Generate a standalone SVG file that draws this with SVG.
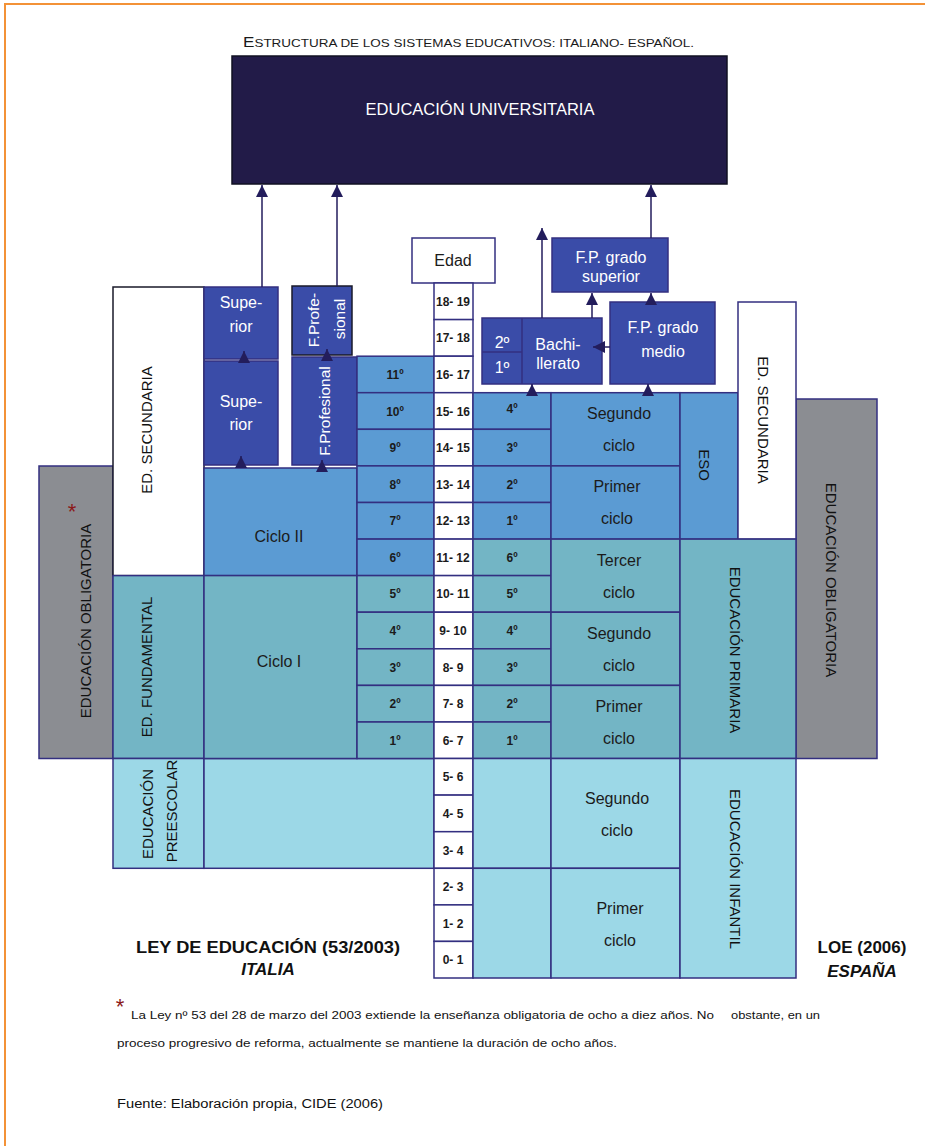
<svg xmlns="http://www.w3.org/2000/svg" width="925" height="1146" viewBox="0 0 925 1146">
<style>
text{font-family:"Liberation Sans",Arial,sans-serif;}
.b{stroke:#332f80;stroke-width:1.5;}
.k{stroke:#1a1a2a;stroke-width:1.5;}
.blue{fill:#5b9bd3}
.teal{fill:#73b5c5}
.light{fill:#9cd8e7}
.dark{fill:#3a4ca8}
.white{fill:#ffffff}
.gray{fill:#8b8d92}
.lbl{font-size:16px;fill:#1b1b1b;text-anchor:middle}
.wl{font-size:16px;fill:#ffffff;text-anchor:middle}
.num{font-size:12px;font-weight:bold;fill:#1b1b1b;text-anchor:middle}
.rot{font-size:15px;fill:#111111;text-anchor:middle;dominant-baseline:central}
.wrot{font-size:15.5px;fill:#ffffff;text-anchor:middle;dominant-baseline:central}
.ast{font-size:22px;fill:#8b1a1a;text-anchor:middle}
.conn{stroke:#231d5c;stroke-width:1.5;fill:none;marker-end:url(#ah)}
</style>
<defs>
<marker id="ah" viewBox="0 0 10 10" refX="10" refY="5" markerWidth="12" markerHeight="12" markerUnits="userSpaceOnUse" orient="auto">
<path d="M0,0 L10,5 L0,10 z" fill="#231d5c"/>
</marker>
</defs>
<rect x="0" y="0" width="925" height="1146" fill="#ffffff"/>
<path d="M5,1146 V4 H925" fill="none" stroke="#f39237" stroke-width="2"/>

<text x="243" y="47" font-size="11" fill="#1a1a1a" textLength="451" lengthAdjust="spacingAndGlyphs"><tspan font-size="14">E</tspan>STRUCTURA DE LOS SISTEMAS EDUCATIVOS: ITALIANO- ESPAÑOL.</text>

<g id="univ">
<rect x="232" y="56" width="495" height="128" fill="#221b48" stroke="#111122" stroke-width="1.5"/>
<text x="480" y="115" font-size="16.5" fill="#ffffff" text-anchor="middle">EDUCACIÓN UNIVERSITARIA</text>
</g>

<g id="it-obligatoria">
<rect x="39" y="466" width="74" height="292.5" class="gray b"/>
<text class="rot" transform="translate(85,621) rotate(-90)">EDUCACIÓN OBLIGATORIA</text>
<text class="ast" x="72" y="519">*</text>
</g>
<g id="it-secundaria">
<rect x="113" y="287" width="91" height="288.6" class="white k"/>
<text class="rot" transform="translate(146,430) rotate(-90)">ED. SECUNDARIA</text>
</g>
<g id="it-fundamental">
<rect x="113" y="575.6" width="91" height="182.9" class="teal b"/>
<text class="rot" transform="translate(146,667) rotate(-90)">ED. FUNDAMENTAL</text>
</g>
<g id="it-preescolar">
<rect x="113" y="758.5" width="91" height="109.8" class="light b"/>
<text class="rot" transform="translate(147,814) rotate(-90)">EDUCACIÓN</text>
<text class="rot" transform="translate(171,811) rotate(-90)">PREESCOLAR</text>
</g>
<g id="it-preescolar-area">
<rect x="204" y="758.5" width="230" height="109.8" class="light b"/>
</g>
<g id="it-ciclo2">
<rect x="204" y="468" width="153" height="107.6" class="blue b"/>
<text class="lbl" x="279" y="542">Ciclo II</text>
</g>
<g id="it-ciclo1">
<rect x="204" y="575.6" width="153" height="182.9" class="teal b"/>
<text class="lbl" x="279" y="667">Ciclo I</text>
</g>
<g id="it-superior-up">
<rect x="204" y="287" width="74" height="72" class="dark b"/>
<text class="wl" x="241" y="308">Supe-</text>
<text class="wl" x="241" y="332">rior</text>
</g>
<g id="it-superior-low">
<rect x="204" y="361" width="74" height="104" class="dark b"/>
<text class="wl" x="241" y="407">Supe-</text>
<text class="wl" x="241" y="430">rior</text>
</g>
<g id="it-fp-up">
<rect x="292" y="286" width="60" height="69" class="dark k"/>
<text class="wrot" transform="translate(313,320) rotate(-90)">F.Profe-</text>
<text class="wrot" transform="translate(339,319) rotate(-90)">sional</text>
</g>
<g id="it-fp-low">
<rect x="292" y="357" width="65" height="108" class="dark b"/>
<text class="wrot" transform="translate(324,411) rotate(-90)">F.Profesional</text>
</g>

<g id="it-grades">
<rect x="357" y="356.2" width="77" height="36.5" class="blue b"/><text class="num" x="395" y="379">11º</text>
<rect x="357" y="392.7" width="77" height="36.6" class="blue b"/><text class="num" x="395" y="415.5">10º</text>
<rect x="357" y="429.3" width="77" height="36.6" class="blue b"/><text class="num" x="395" y="452">9º</text>
<rect x="357" y="465.9" width="77" height="36.6" class="blue b"/><text class="num" x="395" y="488.7">8º</text>
<rect x="357" y="502.5" width="77" height="36.6" class="blue b"/><text class="num" x="395" y="525.3">7º</text>
<rect x="357" y="539.1" width="77" height="36.5" class="blue b"/><text class="num" x="395" y="561.9">6º</text>
<rect x="357" y="575.6" width="77" height="36.6" class="teal b"/><text class="num" x="395" y="598.4">5º</text>
<rect x="357" y="612.2" width="77" height="36.6" class="teal b"/><text class="num" x="395" y="635">4º</text>
<rect x="357" y="648.8" width="77" height="36.6" class="teal b"/><text class="num" x="395" y="671.6">3º</text>
<rect x="357" y="685.4" width="77" height="36.6" class="teal b"/><text class="num" x="395" y="708.2">2º</text>
<rect x="357" y="722" width="77" height="36.5" class="teal b"/><text class="num" x="395" y="744.8">1º</text>
</g>

<g id="edad">
<rect x="412" y="238" width="83" height="45" class="white b"/>
<text class="lbl" x="453" y="266">Edad</text>
</g>
<g id="ages">
<rect x="434" y="283" width="39" height="36.6" class="white b"/><text class="num" x="453" y="305.5">18- 19</text>
<rect x="434" y="319.6" width="39" height="36.6" class="white b"/><text class="num" x="453" y="342">17- 18</text>
<rect x="434" y="356.2" width="39" height="36.5" class="white b"/><text class="num" x="453" y="379">16- 17</text>
<rect x="434" y="392.7" width="39" height="36.6" class="white b"/><text class="num" x="453" y="415.5">15- 16</text>
<rect x="434" y="429.3" width="39" height="36.6" class="white b"/><text class="num" x="453" y="452">14- 15</text>
<rect x="434" y="465.9" width="39" height="36.6" class="white b"/><text class="num" x="453" y="488.7">13- 14</text>
<rect x="434" y="502.5" width="39" height="36.6" class="white b"/><text class="num" x="453" y="525.3">12- 13</text>
<rect x="434" y="539.1" width="39" height="36.5" class="white b"/><text class="num" x="453" y="561.9">11- 12</text>
<rect x="434" y="575.6" width="39" height="36.6" class="white b"/><text class="num" x="453" y="598.4">10- 11</text>
<rect x="434" y="612.2" width="39" height="36.6" class="white b"/><text class="num" x="453" y="635">9- 10</text>
<rect x="434" y="648.8" width="39" height="36.6" class="white b"/><text class="num" x="453" y="671.6">8- 9</text>
<rect x="434" y="685.4" width="39" height="36.6" class="white b"/><text class="num" x="453" y="708.2">7- 8</text>
<rect x="434" y="722" width="39" height="36.5" class="white b"/><text class="num" x="453" y="744.8">6- 7</text>
<rect x="434" y="758.5" width="39" height="36.6" class="white b"/><text class="num" x="453" y="781.3">5- 6</text>
<rect x="434" y="795.1" width="39" height="36.6" class="white b"/><text class="num" x="453" y="817.9">4- 5</text>
<rect x="434" y="831.7" width="39" height="36.6" class="white b"/><text class="num" x="453" y="854.5">3- 4</text>
<rect x="434" y="868.3" width="39" height="36.6" class="white b"/><text class="num" x="453" y="891.1">2- 3</text>
<rect x="434" y="904.9" width="39" height="36.5" class="white b"/><text class="num" x="453" y="927.7">1- 2</text>
<rect x="434" y="941.4" width="39" height="36.6" class="white b"/><text class="num" x="453" y="964.2">0- 1</text>
</g>

<g id="es-grades">
<rect x="473" y="392.7" width="78" height="36.6" class="blue b"/><text class="num" x="512" y="412.5">4º</text>
<rect x="473" y="429.3" width="78" height="36.6" class="blue b"/><text class="num" x="512" y="452">3º</text>
<rect x="473" y="465.9" width="78" height="36.6" class="blue b"/><text class="num" x="512" y="488.7">2º</text>
<rect x="473" y="502.5" width="78" height="36.6" class="blue b"/><text class="num" x="512" y="525.3">1º</text>
<rect x="473" y="539.1" width="78" height="36.5" class="teal b"/><text class="num" x="512" y="561.9">6º</text>
<rect x="473" y="575.6" width="78" height="36.6" class="teal b"/><text class="num" x="512" y="598.4">5º</text>
<rect x="473" y="612.2" width="78" height="36.6" class="teal b"/><text class="num" x="512" y="635">4º</text>
<rect x="473" y="648.8" width="78" height="36.6" class="teal b"/><text class="num" x="512" y="671.6">3º</text>
<rect x="473" y="685.4" width="78" height="36.6" class="teal b"/><text class="num" x="512" y="708.2">2º</text>
<rect x="473" y="722" width="78" height="36.5" class="teal b"/><text class="num" x="512" y="744.8">1º</text>
<rect x="473" y="758.5" width="78" height="109.8" class="light b"/>
<rect x="473" y="868.3" width="78" height="109.7" class="light b"/>
</g>
<g id="es-eso-2">
<rect x="551" y="392.7" width="129" height="73.2" class="blue b"/>
<text class="lbl" x="619" y="419">Segundo</text><text class="lbl" x="619" y="451">ciclo</text>
</g>
<g id="es-eso-1">
<rect x="551" y="465.9" width="129" height="73.2" class="blue b"/>
<text class="lbl" x="617" y="492">Primer</text><text class="lbl" x="617" y="524">ciclo</text>
</g>
<g id="es-prim-3">
<rect x="551" y="539.1" width="129" height="73.1" class="teal b"/>
<text class="lbl" x="619" y="566">Tercer</text><text class="lbl" x="619" y="598">ciclo</text>
</g>
<g id="es-prim-2">
<rect x="551" y="612.2" width="129" height="73.2" class="teal b"/>
<text class="lbl" x="619" y="639">Segundo</text><text class="lbl" x="619" y="671">ciclo</text>
</g>
<g id="es-prim-1">
<rect x="551" y="685.4" width="129" height="73.1" class="teal b"/>
<text class="lbl" x="619" y="712">Primer</text><text class="lbl" x="619" y="744">ciclo</text>
</g>
<g id="es-inf-2">
<rect x="551" y="758.5" width="129" height="109.8" class="light b"/>
<text class="lbl" x="617" y="804">Segundo</text><text class="lbl" x="617" y="836">ciclo</text>
</g>
<g id="es-inf-1">
<rect x="551" y="868.3" width="129" height="109.7" class="light b"/>
<text class="lbl" x="620" y="914">Primer</text><text class="lbl" x="620" y="946">ciclo</text>
</g>
<g id="es-obligatoria">
<rect x="796" y="399" width="81" height="359.5" class="gray b"/>
<text class="rot" transform="translate(831,580) rotate(90)">EDUCACIÓN OBLIGATORIA</text>
</g>
<g id="es-eso">
<rect x="680" y="392.7" width="58" height="146.4" class="blue b"/>
<text class="rot" transform="translate(704,465) rotate(90)">ESO</text>
</g>
<g id="es-secundaria">
<rect x="738" y="302" width="58" height="237.1" class="white b"/>
<text class="rot" transform="translate(763,420) rotate(90)">ED. SECUNDARIA</text>
</g>
<g id="es-primaria">
<rect x="680" y="539.1" width="116" height="219.4" class="teal b"/>
<text class="rot" transform="translate(735,650) rotate(90)">EDUCACIÓN PRIMARIA</text>
</g>
<g id="es-infantil">
<rect x="680" y="758.5" width="116" height="219.5" class="light b"/>
<text class="rot" transform="translate(735,869) rotate(90)">EDUCACIÓN INFANTIL</text>
</g>
<g id="es-bachillerato">
<rect x="482" y="318" width="120" height="66" class="dark b"/>
<line x1="522" y1="318" x2="522" y2="384" class="b"/>
<line x1="482" y1="352" x2="522" y2="352" class="b"/>
<text class="wl" x="502" y="348" font-size="14">2º</text>
<text class="wl" x="502" y="373" font-size="14">1º</text>
<text class="wl" x="558" y="350">Bachi-</text>
<text class="wl" x="558" y="369">llerato</text>
</g>
<g id="es-fp-superior">
<rect x="552" y="238" width="116" height="54" class="dark b"/>
<text class="wl" x="611" y="263">F.P. grado</text>
<text class="wl" x="611" y="282">superior</text>
</g>
<g id="es-fp-medio">
<rect x="610" y="302" width="105" height="82" class="dark b"/>
<text class="wl" x="663" y="333">F.P. grado</text>
<text class="wl" x="663" y="357">medio</text>
</g>

<g id="connectors">
<line class="conn" x1="262" y1="287" x2="262" y2="185"/>
<line class="conn" x1="337" y1="286" x2="337" y2="185"/>
<line class="conn" x1="651" y1="238" x2="651" y2="185"/>
<line class="conn" x1="542" y1="318" x2="542" y2="228"/>
<line class="conn" x1="592" y1="318" x2="592" y2="293"/>
<line class="conn" x1="651" y1="302" x2="651" y2="293"/>
<line class="conn" x1="610" y1="347" x2="593" y2="347"/>
<line class="conn" x1="532" y1="395" x2="532" y2="384"/>
<line class="conn" x1="648" y1="395" x2="648" y2="384"/>
<line class="conn" x1="244" y1="362" x2="244" y2="351"/>
<line class="conn" x1="241" y1="467" x2="241" y2="456"/>
<line class="conn" x1="327" y1="360" x2="327" y2="349"/>
<line class="conn" x1="322" y1="471" x2="322" y2="460"/>
</g>

<g id="captions">
<text x="268" y="953" font-size="17" font-weight="bold" fill="#111" text-anchor="middle" textLength="264" lengthAdjust="spacingAndGlyphs">LEY DE EDUCACIÓN (53/2003)</text>
<text x="268" y="975" font-size="17" font-weight="bold" font-style="italic" fill="#111" text-anchor="middle">ITALIA</text>
<text x="862" y="953" font-size="17" font-weight="bold" fill="#111" text-anchor="middle">LOE (2006)</text>
<text x="862" y="977" font-size="17" font-weight="bold" font-style="italic" fill="#111" text-anchor="middle">ESPAÑA</text>
</g>

<g id="footnote">
<text class="ast" x="120" y="1014">*</text>
<text x="131" y="1019" font-size="11.5" fill="#111" textLength="583" lengthAdjust="spacingAndGlyphs">La Ley nº 53 del 28 de marzo del 2003 extiende la enseñanza obligatoria de ocho a diez años. No</text>
<text x="731" y="1019" font-size="11.5" fill="#111" textLength="89" lengthAdjust="spacingAndGlyphs">obstante, en un</text>
<text x="117" y="1047" font-size="11.5" fill="#111" textLength="500" lengthAdjust="spacingAndGlyphs">proceso progresivo de reforma, actualmente se mantiene la duración de ocho años.</text>
<text x="117" y="1108" font-size="12" fill="#111" textLength="266" lengthAdjust="spacingAndGlyphs">Fuente: Elaboración propia, CIDE (2006)</text>
</g>
</svg>
